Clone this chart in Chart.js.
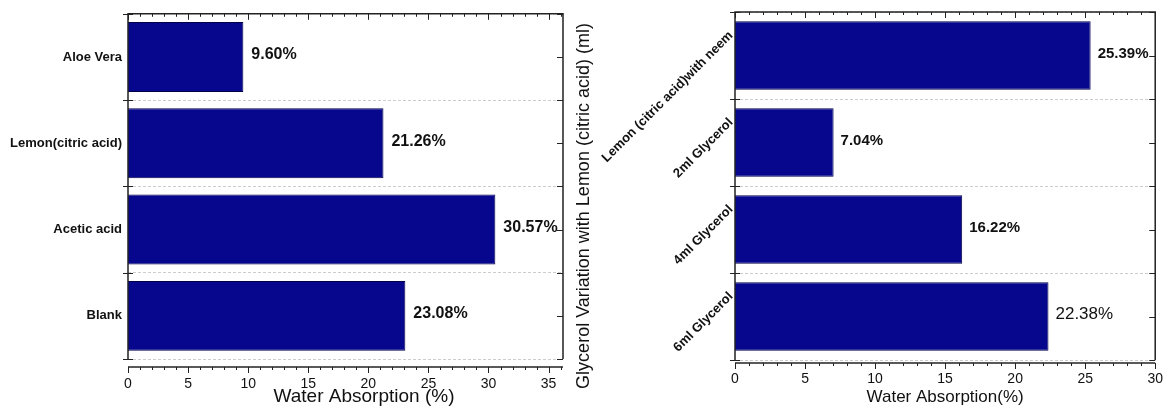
<!DOCTYPE html>
<html>
<head>
<meta charset="utf-8">
<script src="https://cdn.jsdelivr.net/npm/chart.js@4.4.1/dist/chart.umd.min.js"></script>
<style>
  html, body { margin: 0; padding: 0; background: #fff; }
  #wrap { position: relative; width: 1174px; height: 409px; }
  .box { position: absolute; top: 0; height: 409px; }
  #left { left: 0; width: 575px; }
  #right { left: 575px; width: 599px; }
</style>
</head>
<body>
<div id="wrap">
  <div class="box" id="left"><canvas id="graficoEsq"></canvas></div>
  <div class="box" id="right"><canvas id="graficoDir"></canvas></div>
</div>
<script>
// dados
const tratamentos = ['Aloe Vera', 'Lemon(citric acid)', 'Acetic acid', 'Blank'];
const absorcaoTratamentos = [9.60, 21.26, 30.57, 23.08];

const glicerol = ['Lemon (citric acid)with neem', '2ml Glycerol', '4ml Glycerol', '6ml Glycerol'];
const absorcaoGlicerol = [25.39, 7.04, 16.22, 22.38];

const ticksEsq = [0, 5, 10, 15, 20, 25, 30, 35];
const ticksDir = [0, 5, 10, 15, 20, 25, 30];

const FONTE = "'Liberation Sans', Arial, sans-serif";
const AZUL = '#07078e';

// moldura estilo Origin: caixa, eixo de baixo deslocado, ticks menores
const moldura = {
    id: 'moldura',
    afterDatasetsDraw(chart, args, opts) {
        const {ctx, chartArea: a, scales: {x, y}} = chart;
        ctx.save();
        ctx.strokeStyle = '#222';
        ctx.lineWidth = 1.5;
        ctx.beginPath();
        ctx.moveTo(a.left, a.bottom);
        ctx.lineTo(a.left, a.top);
        ctx.lineTo(a.right, a.top);
        ctx.lineTo(a.right, a.bottom);
        ctx.stroke();

        const yb = a.bottom + opts.gap;
        ctx.beginPath();
        ctx.moveTo(a.left, yb);
        ctx.lineTo(a.right, yb);
        ctx.stroke();

        ctx.lineWidth = 1;
        for (let v = 0; v <= x.max + 1e-9; v++) {
            const px = Math.round(x.getPixelForValue(v)) + 0.5;
            const len = v % 5 === 0 ? 6 : 3;
            ctx.beginPath();
            ctx.moveTo(px, yb); ctx.lineTo(px, yb + len);       // baixo, para fora
            ctx.moveTo(px, a.top); ctx.lineTo(px, a.top + len); // topo, para dentro
            ctx.stroke();
        }

        const n = chart.data.labels.length;
        for (let i = 0; i <= n; i++) {
            const py = Math.round(y.getPixelForValue(i - 0.5)) + 0.5;
            ctx.beginPath();
            ctx.moveTo(a.left - 5, py); ctx.lineTo(a.left + 5, py);
            ctx.moveTo(a.right - 6, py); ctx.lineTo(a.right, py);
            ctx.stroke();
            if (i < n) {
                const pc = Math.round(y.getPixelForValue(i)) + 0.5;
                ctx.beginPath();
                ctx.moveTo(a.right - 6, pc); ctx.lineTo(a.right, pc);
                ctx.stroke();
            }
        }
        ctx.restore();
    }
};

// valores ao lado das barras
const rotulosValor = {
    id: 'rotulosValor',
    afterDatasetsDraw(chart, args, opts) {
        const {ctx} = chart;
        const meta = chart.getDatasetMeta(0);
        const dados = chart.data.datasets[0].data;
        ctx.save();
        ctx.fillStyle = '#111';
        ctx.textAlign = 'left';
        ctx.textBaseline = 'middle';
        meta.data.forEach((bar, i) => {
            ctx.font = opts.fontes[i] + ' ' + FONTE;
            ctx.fillText(dados[i].toFixed(2) + '%', bar.x + opts.offset, bar.y - 2);
        });
        ctx.restore();
    }
};

// titulo do eixo x (um pouco fora do centro, como no original)
const tituloX = {
    id: 'tituloX',
    afterDraw(chart, args, opts) {
        const {ctx} = chart;
        ctx.save();
        ctx.fillStyle = '#111';
        ctx.font = opts.fonte + ' ' + FONTE;
        ctx.textAlign = 'center';
        ctx.textBaseline = 'middle';
        ctx.fillText(opts.texto, opts.x, opts.y);
        ctx.restore();
    }
};

// categorias inclinadas e titulo vertical do grafico da direita
const rotulosGirados = {
    id: 'rotulosGirados',
    afterDraw(chart, args, opts) {
        const {ctx, chartArea: a, scales: {y}} = chart;
        ctx.save();
        ctx.fillStyle = '#111';
        ctx.font = 'bold 13px ' + FONTE;
        ctx.textAlign = 'right';
        ctx.textBaseline = 'middle';
        chart.data.labels.forEach((lab, i) => {
            const py = y.getPixelForValue(i);
            ctx.save();
            ctx.translate(a.left - 4, py - 22);
            ctx.rotate(-Math.PI / 4);
            ctx.fillText(lab, 0, 0);
            ctx.restore();
        });

        ctx.font = '18px ' + FONTE;
        ctx.textAlign = 'center';
        ctx.translate(9, 206);
        ctx.rotate(-Math.PI / 2);
        ctx.fillText(opts.titulo, 0, 0);
        ctx.restore();
    }
};

new Chart(document.getElementById('graficoEsq'), {
    type: 'bar',
    data: {
        labels: tratamentos,
        datasets: [{
            data: absorcaoTratamentos,
            backgroundColor: AZUL,
            borderColor: '#00004a',
            borderWidth: 1,
            barPercentage: 0.81,
            categoryPercentage: 1
        }]
    },
    options: {
        indexAxis: 'y',
        responsive: true,
        maintainAspectRatio: false,
        animation: false,
        layout: { padding: { top: 8, right: 12, left: 0, bottom: 0 } },
        plugins: {
            legend: { display: false },
            tooltip: { enabled: false },
            moldura: { gap: 8 },
            rotulosValor: { offset: 8, fontes: ['bold 16px', 'bold 16px', 'bold 16px', 'bold 16px'] },
            tituloX: { texto: 'Water Absorption (%)', fonte: '19px', x: 364, y: 397 }
        },
        scales: {
            x: {
                min: 0,
                max: 36.2,
                afterBuildTicks: s => { s.ticks = ticksEsq.map(v => ({ value: v })); },
                afterFit: s => { s.height = 50; },
                grid: { display: false, drawTicks: false },
                border: { display: false },
                ticks: { padding: 17, color: '#111', font: { family: FONTE, size: 14 } }
            },
            y: {
                afterFit: s => { s.width = 128; },
                grid: { color: '#cccccc', drawTicks: false },
                border: { display: false, dash: [3, 2] },
                ticks: { padding: 6, color: '#111', font: { family: FONTE, size: 13, weight: 'bold' } }
            }
        }
    },
    plugins: [moldura, rotulosValor, tituloX]
});

new Chart(document.getElementById('graficoDir'), {
    type: 'bar',
    data: {
        labels: glicerol,
        datasets: [{
            data: absorcaoGlicerol,
            backgroundColor: AZUL,
            borderColor: '#00004a',
            borderWidth: 1,
            barPercentage: 0.79,
            categoryPercentage: 1
        }]
    },
    options: {
        indexAxis: 'y',
        responsive: true,
        maintainAspectRatio: false,
        animation: false,
        layout: { padding: { top: 12, right: 11, left: 0, bottom: 0 } },
        plugins: {
            legend: { display: false },
            tooltip: { enabled: false },
            moldura: { gap: 3 },
            rotulosValor: { offset: 7, fontes: ['bold 15px', 'bold 15px', 'bold 15px', '17px'] },
            rotulosGirados: { titulo: 'Glycerol Variation with Lemon (citric acid) (ml)' }
        },
        scales: {
            x: {
                min: 0,
                max: 30,
                afterBuildTicks: s => { s.ticks = ticksDir.map(v => ({ value: v })); },
                afterFit: s => { s.height = 49; },
                grid: { display: false, drawTicks: false },
                border: { display: false },
                ticks: { padding: 11, color: '#111', font: { family: FONTE, size: 14 } },
                title: {
                    display: true,
                    text: 'Water Absorption(%)',
                    color: '#111',
                    font: { family: FONTE, size: 17 },
                    padding: { top: 0, bottom: 1 }
                }
            },
            y: {
                afterFit: s => { s.width = 160; },
                grid: { color: '#cccccc', drawTicks: false },
                border: { display: false, dash: [3, 2] },
                ticks: { display: false }
            }
        }
    },
    plugins: [moldura, rotulosValor, rotulosGirados]
});
</script>
</body>
</html>
